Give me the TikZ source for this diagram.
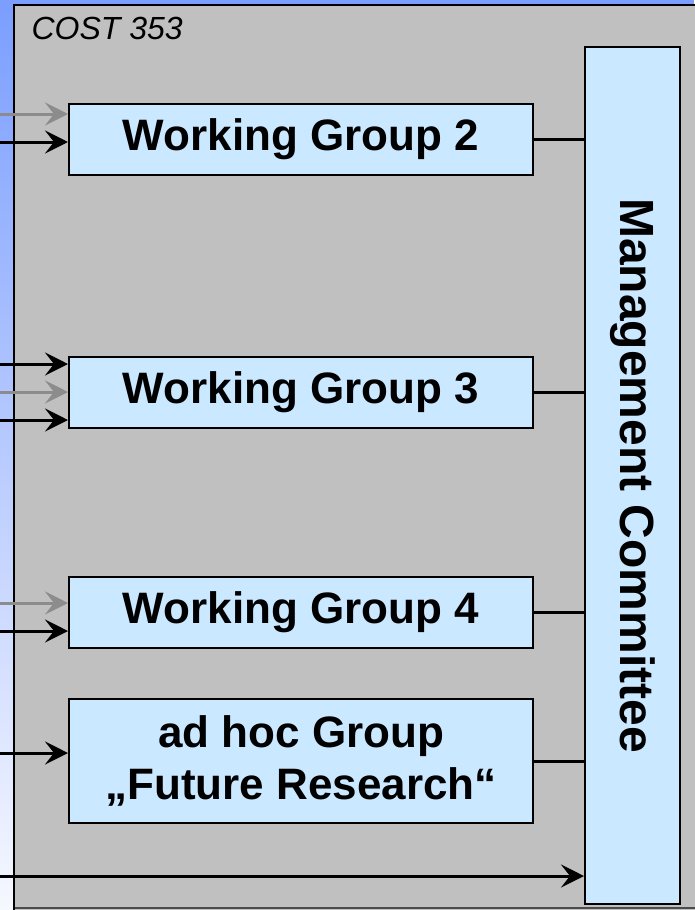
\documentclass[tikz,border=0pt]{standalone}
\usepackage{fontspec}
\setmainfont{Liberation Sans}
\usetikzlibrary{arrows.meta}
\definecolor{costblue}{HTML}{7B9EFF}
\definecolor{costfade}{HTML}{F6F8FF}
\definecolor{panelgray}{HTML}{C0C0C0}
\definecolor{boxblue}{HTML}{CAE8FF}
\definecolor{feedgray}{HTML}{8C8C8C}
\tikzset{
  groupbox/.style={draw=black, line width=2pt, fill=boxblue, inner sep=0pt,
    minimum width=464pt, anchor=north west, align=center,
    font=\bfseries\fontsize{44}{52}\selectfont},
  feed/.style={line width=3pt, -{Stealth[length=23pt,width=23pt,inset=9pt]}},
  feedmain/.style={feed, black},
  feedside/.style={feed, feedgray},
  link/.style={line width=3pt, black}
}
\begin{document}
\begin{tikzpicture}[x=1pt,y=-1pt]
      \useasboundingbox (0,0) rectangle (694,910);
      % background
      \shade[top color=costblue, bottom color=costfade] (0,0) rectangle (14,910);
      \fill[costblue] (0,0) rectangle (694,5);
      \fill[panelgray] (14,5) rectangle (700,910);
      \draw[line width=2pt, black!70] (14,908) -- (700,908);
      \draw[line width=2pt] (14,910) -- (14,5) -- (700,5);
      \node[anchor=base west, font=\itshape\fontsize{32}{36}\selectfont] (cost) at (28,39) {COST 353};
      % groups
      \draw
        (68,103) node[groupbox, minimum height=71pt] (wg2) {Working Group 2}
        (68,356) node[groupbox, minimum height=71pt] (wg3) {Working Group 3}
        (68,576) node[groupbox, minimum height=71pt] (wg4) {Working Group 4}
        (68,698) node[groupbox, minimum height=124pt] (adhoc) {ad hoc Group\\,,Future Research``}
        (584,46) node[groupbox, minimum width=95pt, minimum height=857pt] (mc) {};
      \node[rotate=-90, font=\bfseries\fontsize{48}{52}\selectfont] (mclabel) at (mc.center) {Management Committee};
      % inputs
      \coordinate (in2a) at (0,114);
      \coordinate (in2b) at (0,142);
      \coordinate (in3a) at (0,364);
      \coordinate (in3b) at (0,392);
      \coordinate (in3c) at (0,420);
      \coordinate (in4a) at (0,603);
      \coordinate (in4b) at (0,631);
      \coordinate (inah) at (0,753);
      \coordinate (inmc) at (0,876);
      \begin{scope}[feed]
        \draw[feedside] (in2a) to (in2a -| wg2.west);
        \draw[feedmain] (in2b) to (in2b -| wg2.west);
        \draw[feedmain] (in3a) to (in3a -| wg3.west);
        \draw[feedside] (in3b) to (in3b -| wg3.west);
        \draw[feedmain] (in3c) to (in3c -| wg3.west);
        \draw[feedside] (in4a) to (in4a -| wg4.west);
        \draw[feedmain] (in4b) to (in4b -| wg4.west);
        \draw[feedmain] (inah) to (inah -| adhoc.west);
        \draw[feedmain] (inmc) to (inmc -| mc.west);
      \end{scope}
      % links to the committee
      \begin{scope}[link]
        \draw (wg2.east) to (wg2.east -| mc.west);
        \draw (wg3.east) to (wg3.east -| mc.west);
        \draw (wg4.east) to (wg4.east -| mc.west);
        \draw (adhoc.east) to (adhoc.east -| mc.west);
      \end{scope}
    \end{tikzpicture}
\end{document}
